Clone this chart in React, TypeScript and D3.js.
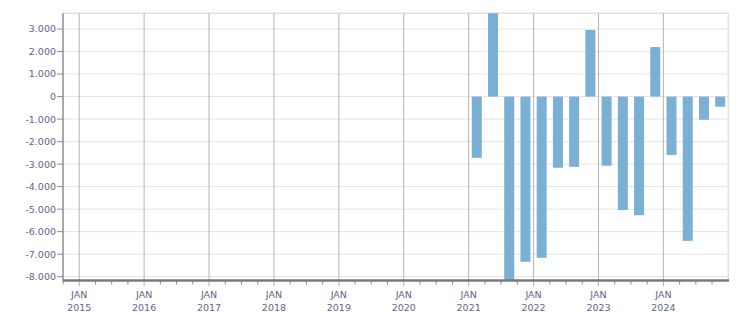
import React from "react";
import * as d3 from "d3";

const quarters: string[] = [
  "2021Q1","2021Q2","2021Q3","2021Q4",
  "2022Q1","2022Q2","2022Q3","2022Q4",
  "2023Q1","2023Q2","2023Q3","2023Q4",
  "2024Q1","2024Q2","2024Q3","2024Q4",
];
const values: number[] = [
  -2720, 3750, -8250, -7340,
  -7160, -3160, -3120, 2960,
  -3070, -5040, -5270, 2200,
  -2590, -6410, -1030, -450,
];
const years: number[] = [2015, 2016, 2017, 2018, 2019, 2020, 2021, 2022, 2023, 2024];
const yTicks: number[] = [3000, 2000, 1000, 0, -1000, -2000, -3000, -4000, -5000, -6000, -7000, -8000];

const W = 751, H = 313;
const L = 63, R = 728.3, T = 13.3, B = 280.5;

function qIndex(q: string): number {
  const y = +q.slice(0, 4);
  const n = +q.slice(5);
  return (y - 2015) * 4 + (n - 1);
}

function fmt(v: number): string {
  const s = Math.abs(v).toString().replace(/\B(?=(\d{3})+(?!\d))/g, ".");
  return (v < 0 ? "-" : "") + s;
}

export default function App() {
  const x = d3.scaleLinear().domain([-1, 40]).range([L, R]);
  const y = d3.scaleLinear().domain([-8170, 3700]).range([B, T]);
  const barW = 10;
  const textColor = "#63638a";
  const font = "'DejaVu Sans', Verdana, sans-serif";
  const minor: number[] = d3.range(-1, 40).filter((i) => ((i % 4) + 4) % 4 !== 0);

  return (
    <svg width={W} height={H} style={{ position: "absolute", left: 0, top: 0 }}>
      <defs>
        <clipPath id="plot">
          <rect x={L} y={T} width={R - L} height={B - T} />
        </clipPath>
      </defs>
      <rect x={0} y={0} width={W} height={H} fill="#fff" />
      {/* horizontal grid */}
      {yTicks.map((t) => (
        <line key={"h" + t} x1={L} x2={R} y1={y(t)} y2={y(t)} stroke="#e3e3e3" strokeWidth={1} />
      ))}
      {/* top & right border */}
      <line x1={L} x2={R} y1={T} y2={T} stroke="#e0e0e0" strokeWidth={1.5} />
      <line x1={R} x2={R} y1={T} y2={B} stroke="#e0e0e0" strokeWidth={1.5} />
      {/* vertical year grid */}
      {years.map((yr) => {
        const xx = x((yr - 2015) * 4);
        return <line key={"v" + yr} x1={xx} x2={xx} y1={T} y2={B + 6} stroke="#b5b5b5" strokeWidth={1} />;
      })}
      {/* bars */}
      <g clipPath="url(#plot)">
        {quarters.map((q, i) => {
          const c = x(qIndex(q) + 0.5);
          const v = values[i];
          const y0 = y(0), y1 = y(v);
          return (
            <rect key={q} x={c - barW / 2} y={Math.min(y0, y1)} width={barW} height={Math.abs(y1 - y0)} fill="#79b0d3" />
          );
        })}
      </g>
      {/* minor x ticks */}
      {minor.map((i) => (
        <line key={"m" + i} x1={x(i)} x2={x(i)} y1={B} y2={B + 4} stroke="#8a8a8a" strokeWidth={1} />
      ))}
      {/* axes */}
      <line x1={L} x2={L} y1={T} y2={B} stroke="#8c8c8c" strokeWidth={1.5} />
      <line x1={L} x2={R + 0.7} y1={B} y2={B} stroke="#7a7a7a" strokeWidth={2.5} />
      {/* y ticks + labels */}
      {yTicks.map((t) => (
        <g key={"yt" + t}>
          <line x1={L - 6} x2={L} y1={y(t)} y2={y(t)} stroke="#8c8c8c" strokeWidth={1} />
          <text x={L - 7} y={y(t)} dy="0.36em" textAnchor="end" fontFamily={font} fontSize={9.5} fill={textColor}>
            {fmt(t)}
          </text>
        </g>
      ))}
      {/* x labels */}
      {years.map((yr) => {
        const xx = x((yr - 2015) * 4);
        return (
          <g key={"xl" + yr}>
            <text x={xx} y={297.7} textAnchor="middle" fontFamily={font} fontSize={9.5} fill={textColor}>JAN</text>
            <text x={xx} y={310.7} textAnchor="middle" fontFamily={font} fontSize={9.5} fill={textColor}>{yr}</text>
          </g>
        );
      })}
    </svg>
  );
}
